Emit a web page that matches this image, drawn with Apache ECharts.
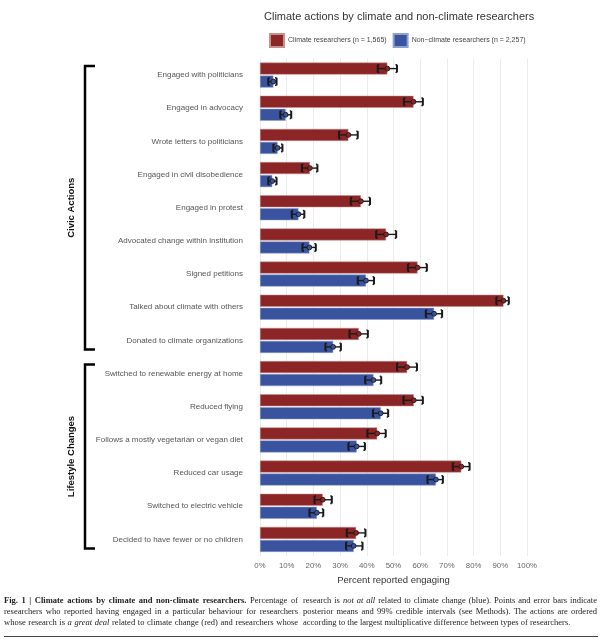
<!DOCTYPE html>
<html><head><meta charset="utf-8">
<script src="https://cdn.jsdelivr.net/npm/echarts@6/dist/echarts.min.js"></script>
<style>
html,body{margin:0;padding:0;background:#fff;}
#chart{position:absolute;left:0;top:0;width:602px;height:642px;}
#cap{position:absolute;left:4px;top:595px;width:594px;font-family:"Liberation Serif","DejaVu Serif",serif;font-size:8.5px;line-height:11px;color:#222;}
.col{position:absolute;top:0;width:294px;}
.ln{text-align:justify;text-align-last:justify;white-space:nowrap;}
.ln.last{text-align-last:left;}
#rule{position:absolute;left:4px;top:636px;width:594px;height:1px;background:#444;}
</style></head>
<body>
<div id="chart"></div>
<div id="cap">
 <div class="col" style="left:0">
  <div class="ln"><b>Fig. 1 | Climate actions by climate and non-climate researchers.</b> Percentage of</div>
  <div class="ln">researchers who reported having engaged in a particular behaviour for researchers</div>
  <div class="ln">whose research is <i>a great deal</i> related to climate change (red) and researchers whose</div>
 </div>
 <div class="col" style="left:299px">
  <div class="ln">research is <i>not at all</i> related to climate change (blue). Points and error bars indicate</div>
  <div class="ln">posterior means and 99% credible intervals (see Methods). The actions are ordered</div>
  <div class="ln last">according to the largest multiplicative difference between types of researchers.</div>
 </div>
</div>
<div id="rule"></div>
<script>
const categories = [
 "Engaged with politicians","Engaged in advocacy","Wrote letters to politicians","Engaged in civil disobedience",
 "Engaged in protest","Advocated change within institution","Signed petitions","Talked about climate with others",
 "Donated to climate organizations","Switched to renewable energy at home","Reduced flying",
 "Follows a mostly vegetarian or vegan diet","Reduced car usage","Switched to electric vehicle",
 "Decided to have fewer or no children"];
const climateMean = [47.7,57.5,33.1,18.7,37.8,47.2,59.0,91.2,37.0,55.1,57.6,43.9,75.4,23.5,36.0];
const climateLow  = [44.1,53.9,29.6,15.7,34.0,43.5,55.4,88.5,33.5,51.3,53.7,40.2,72.2,20.4,32.5];
const climateHigh = [51.3,61.0,36.6,21.5,41.2,51.0,62.5,93.2,40.4,58.8,61.0,47.1,78.5,26.9,39.5];
const nonMean = [5.0,9.6,6.6,4.6,14.4,18.5,39.7,65.2,27.4,42.5,45.2,36.2,65.9,21.3,35.1];
const nonLow  = [3.1,7.6,5.0,3.1,11.9,15.9,36.6,62.1,24.5,39.4,42.3,33.1,62.7,18.5,32.2];
const nonHigh = [6.2,11.7,8.4,6.2,16.6,20.9,42.7,68.2,30.3,45.4,48.0,39.3,68.5,23.7,38.4];
const xTicks = [0,10,20,30,40,50,60,70,80,90,100];
const groups = [{name:"Civic Actions",from:0,to:8},{name:"Lifestyle Changes",from:9,to:14}];

const RED = "#8c2526", BLUE = "#3a539e";
const BARW = 12, GAPPX = 1;
const FONT = "Liberation Sans, Arial, sans-serif";

function errSeries(name, low, high, mean, color, dir){
  return {
    type:'custom', name:name+' err', z:5,
    data: categories.map((c,i)=>[i, low[i], high[i], mean[i]]),
    encode:{y:0, x:[1,2,3]},
    renderItem:function(params, api){
      const off = dir*(BARW+GAPPX)/2;
      const lo = api.coord([api.value(1), api.value(0)]);
      const hi = api.coord([api.value(2), api.value(0)]);
      const mu = api.coord([api.value(3), api.value(0)]);
      const y = lo[1]+off, h = 3.8;
      const st = {stroke:'#1a1a1a', lineWidth:1.4};
      return {type:'group', children:[
        {type:'line', shape:{x1:lo[0],y1:y,x2:hi[0],y2:y}, style:st},
        {type:'line', shape:{x1:lo[0],y1:y-h,x2:lo[0],y2:y+h}, style:{stroke:'#1a1a1a',lineWidth:2}},
        {type:'line', shape:{x1:hi[0],y1:y-h,x2:hi[0],y2:y+h}, style:{stroke:'#1a1a1a',lineWidth:2}},
        {type:'line', shape:{x1:lo[0],y1:y-h,x2:lo[0]+1.5,y2:y-h}, style:st},
        {type:'line', shape:{x1:lo[0],y1:y+h,x2:lo[0]+1.5,y2:y+h}, style:st},
        {type:'line', shape:{x1:hi[0],y1:y-h,x2:hi[0]-1.5,y2:y-h}, style:st},
        {type:'line', shape:{x1:hi[0],y1:y+h,x2:hi[0]-1.5,y2:y+h}, style:st},
        {type:'circle', shape:{cx:mu[0],cy:y,r:2.4}, style:{fill:color, stroke:'#1a1a1a', lineWidth:0.9}}
      ]};
    }
  };
}

const chart = echarts.init(document.getElementById('chart'), null, {renderer:'canvas'});
const option = {
  animation:false,
  backgroundColor:'#fff',
  title:{text:'Climate actions by climate and non-climate researchers', left:259, top:6,
    textStyle:{fontFamily:FONT, fontSize:11, fontWeight:'normal', color:'#333'}},
  legend:{data:['Climate researchers (n = 1,565)','Non\u2212climate researchers (n = 2,257)'],
    left:264, top:28, itemWidth:14, itemHeight:13, itemGap:6, icon:'rect',
    textStyle:{fontFamily:FONT, fontSize:7, color:'#444', padding:[0,0,0,-1]}},
  grid:{left:260, right:75, top:58.5, bottom:86},
  xAxis:{type:'value', min:0, max:100, interval:10,
    axisLine:{show:false}, axisTick:{show:false},
    axisLabel:{formatter:v=>xTicks.includes(v)?v+'%':'', fontFamily:FONT, fontSize:7.8, color:'#666', margin:6},
    splitLine:{lineStyle:{color:'#ebebeb', width:1}},
    name:'Percent reported engaging', nameLocation:'middle', nameGap:15,
    nameTextStyle:{fontFamily:FONT, fontSize:9.5, color:'#333'}},
  yAxis:{type:'category', data:categories, inverse:true,
    axisLine:{show:false}, axisTick:{show:false}, splitLine:{show:false},
    axisLabel:{fontFamily:FONT, fontSize:8, color:'#555', margin:17}},
  series:[
    {type:'bar', name:'Climate researchers (n = 1,565)', data:climateMean, barWidth:BARW, barGap:(GAPPX/BARW*100)+'%',
      itemStyle:{color:RED, borderColor:'#c98e8e', borderWidth:0.5}},
    {type:'bar', name:'Non\u2212climate researchers (n = 2,257)', data:nonMean, barWidth:BARW,
      itemStyle:{color:BLUE, borderColor:'#8da0cf', borderWidth:0.5}},
    errSeries('c', climateLow, climateHigh, climateMean, RED, -1),
    errSeries('n', nonLow, nonHigh, nonMean, BLUE, 1)
  ]
};
chart.setOption(option);

// group brackets placed from the category scale
const gfx = [];
groups.forEach(g=>{
  const yTop = chart.convertToPixel({yAxisIndex:0}, g.from) - 9;
  const yBot = chart.convertToPixel({yAxisIndex:0}, g.to) + 9;
  const xL = 85, xR = 95;
  gfx.push({type:'polyline', shape:{points:[[xR,yTop],[xL,yTop],[xL,yBot],[xR,yBot]]}, style:{stroke:'#000',lineWidth:2.5,fill:null}});
  gfx.push({type:'text', x:71, y:(yTop+yBot)/2, rotation:Math.PI/2,
    style:{text:g.name, font:'bold 9.5px '+FONT, fill:'#111', align:'center', verticalAlign:'middle'}});
});
chart.setOption({graphic:gfx});
</script>
</body></html>
